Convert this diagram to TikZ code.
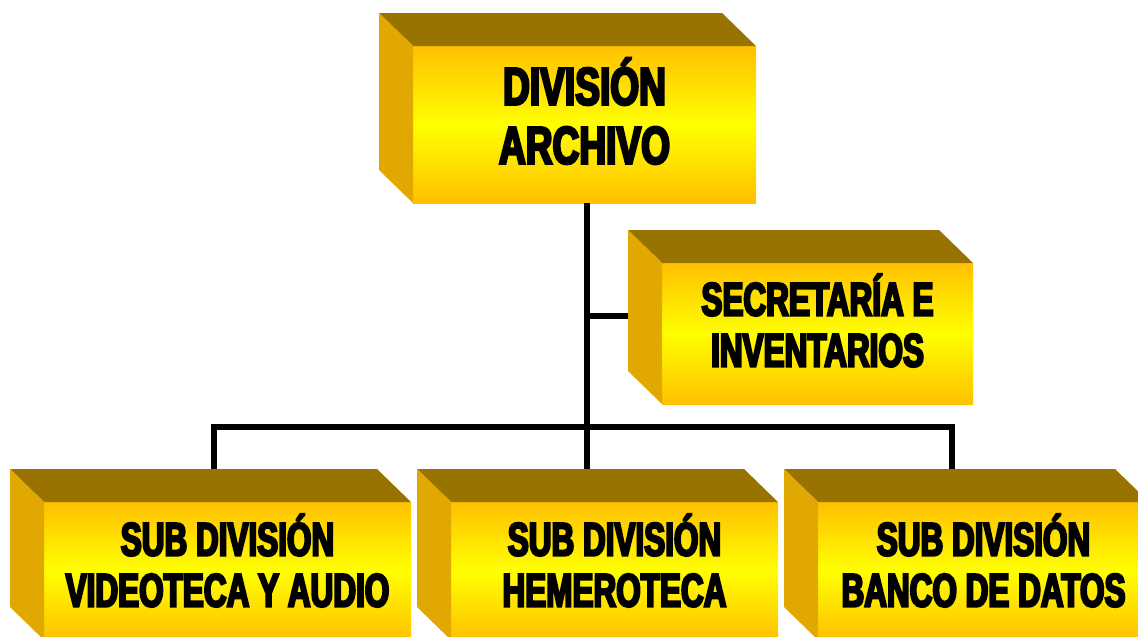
\documentclass[tikz,border=0pt]{standalone}
\usepackage{fontspec}
\usepackage{tikz}
\usetikzlibrary{positioning}
\newfontfamily\impacto{Liberation Sans}[FakeStretch=0.7,FakeBold=4.5]
\newfontfamily\impactoangosto{Liberation Sans}[FakeStretch=0.67,FakeBold=4.5]
\definecolor{tapa}{HTML}{997300}
\definecolor{lateral}{HTML}{E0A800}
\definecolor{oro}{HTML}{FFC000}
\definecolor{amarillo}{HTML}{FFFF00}
\tikzset{
  caja/.style={
    rectangle,
    outer sep=0pt,
    inner sep=0pt,
    top color=oro,
    bottom color=oro,
    middle color=amarillo
  },
  rotulo/.style={
    align=center,
    inner sep=0pt,
    text=black
  },
  grande/.style={rotulo, yshift=13.5, font=\impacto\bfseries\fontsize{53}{59}\selectfont},
  chico/.style={rotulo, font=\impactoangosto\bfseries\fontsize{47}{51}\selectfont},
  linea/.style={line width=5.5pt,black}
}
% top and left faces of a box, depth 34 by 33
\newcommand\caras[1]{
  \fill[tapa] (#1.north west) -- ([shift={(-34,-33)}]#1.north west)
    -- ([shift={(-34,-33)}]#1.north east) -- (#1.north east) -- cycle;
  \fill[lateral] (#1.north west) -- ([shift={(-34,-33)}]#1.north west)
    -- ([shift={(-34,-33)}]#1.south west) -- (#1.south west) -- cycle;
}
\begin{document}
\begin{tikzpicture}[x=1pt,y=-1pt]

				\useasboundingbox (0,0) rectangle (1138,637);

				\node[caja, minimum width=343, minimum height=157,
					label={[grande]center:DIVISIÓN\\ARCHIVO}]
					(archivo) at (584.5,124.5) {};
				\caras{archivo}

				\node[caja, minimum width=311, minimum height=141,
					label={[chico, yshift=13]center:SECRETARÍA E\\INVENTARIOS}]
					(secretaria) at (817.5,333.5) {};
				\caras{secretaria}

				\node[caja, minimum width=367, minimum height=138,
					label={[chico, yshift=10.5]center:SUB DIVISIÓN\\VIDEOTECA Y AUDIO}]
					(videoteca) at (227.5,571) {};
				\node[caja, minimum width=327, minimum height=138, right = 40pt of videoteca,
					label={[chico, yshift=10.5]center:SUB DIVISIÓN\\HEMEROTECA}]
					(hemeroteca) {};
				\node[caja, minimum width=331, minimum height=138, right = 40pt of hemeroteca,
					label={[chico, yshift=10.5]center:SUB DIVISIÓN\\BANCO DE DATOS}]
					(banco) {};
				\caras{videoteca}
				\caras{hemeroteca}
				\caras{banco}

				\coordinate (bus) at (587,427);

				\draw[linea] (archivo.south -| bus) -- ([yshift=33]hemeroteca.north -| bus);
				\draw[linea] (bus |- secretaria.west) ++(0,-17.5) -- ([shift={(-34,-17.5)}]secretaria.west);
				\draw[linea] ([shift={(-13.5,-33)}]videoteca.north) |- (bus) -| ([shift={(-31.5,-33)}]banco.north);

\end{tikzpicture}
\end{document}
